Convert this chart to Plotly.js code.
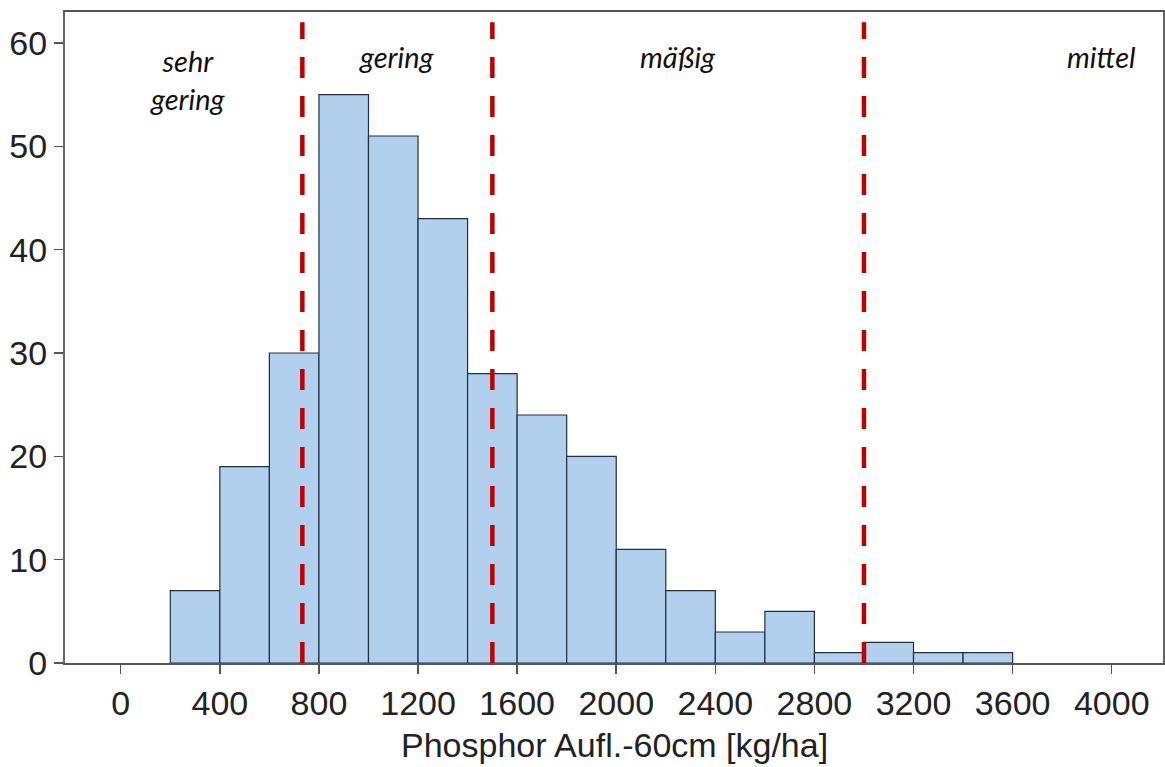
<!DOCTYPE html>
<html>
<head>
<meta charset="utf-8">
<script src="https://cdn.plot.ly/plotly-3.0.1.min.js"></script>
<style>html,body{margin:0;padding:0;background:#fff;}#chart{width:1165px;height:767px;}</style>
</head>
<body>
<div id="chart"></div>
<script>
// Histogram bins (start of each 200-wide bin) and counts
const binStarts = [200, 400, 600, 800, 1000, 1200, 1400, 1600, 1800, 2000, 2200, 2400, 2600, 2800, 3000, 3200, 3400];
const counts    = [7, 19, 30, 55, 51, 43, 28, 24, 20, 11, 7, 3, 5, 1, 2, 1, 1];
const binWidth = 200;

// Class boundaries (dashed red lines)
const thresholds = [733, 1500, 3000];

// Class labels
const classLabels = ["sehr<br>gering", "gering", "mäßig", "mittel"];
const classLabelX = [270, 1116, 2250, 3960];

const xTicks = [0, 400, 800, 1200, 1600, 2000, 2400, 2800, 3200, 3600, 4000];
const yTicks = [0, 10, 20, 30, 40, 50, 60];

const xTitle = "Phosphor Aufl.-60cm [kg/ha]";

const trace = {
  type: 'bar',
  x: binStarts.map(s => s + binWidth / 2),
  y: counts,
  width: binStarts.map(() => binWidth),
  marker: { color: '#b0d0ee', line: { color: '#22303e', width: 1.2 } },
  hoverinfo: 'x+y'
};

const shapes = thresholds.map(t => ({
  type: 'line', xref: 'x', yref: 'y',
  x0: t, x1: t, y0: 0, y1: 62.0,
  line: { color: '#c00000', width: 4.5, dash: '21px,18px' }
}));

const labelFont = { family: 'Lato, "Open Sans", sans-serif', size: 29, color: '#111' };
const annotations = classLabels.map((txt, i) => ({
  xref: 'x', yref: 'paper',
  x: classLabelX[i], y: i === 0 ? 0.955 : 0.962,
  yanchor: 'top', xanchor: 'center',
  text: '<i>' + txt + '</i>',
  showarrow: false, font: labelFont,
  align: 'center'
}));
annotations.push({
  xref: 'paper', yref: 'paper', x: 0.5, y: -0.126,
  xanchor: 'center', yanchor: 'middle',
  text: xTitle, showarrow: false,
  font: { family: '"Liberation Sans", Arial, sans-serif', size: 34, color: '#222' }
});

const tickFont = { family: '"Liberation Sans", Arial, sans-serif', size: 34, color: '#222' };

const layout = {
  width: 1165, height: 767,
  margin: { l: 65, r: 2, t: 12, b: 104 },
  paper_bgcolor: '#fff', plot_bgcolor: '#fff',
  showlegend: false,
  bargap: 0,
  xaxis: {
    range: [-225, 4207],
    tickmode: 'array', tickvals: xTicks, ticktext: xTicks.map(String),
    ticks: 'outside', ticklen: 9, tickwidth: 1.5, tickcolor: '#555',
    showgrid: false, zeroline: false,
    showline: true, linecolor: '#555', linewidth: 2, mirror: true,
    tickfont: tickFont
  },
  yaxis: {
    range: [0, 63],
    tickmode: 'array', tickvals: yTicks, ticktext: yTicks.map(String),
    ticks: 'outside', ticklen: 9, tickwidth: 1.5, tickcolor: '#555',
    showgrid: false, zeroline: false,
    showline: true, linecolor: '#666', linewidth: 2, mirror: true,
    tickfont: tickFont
  },
  shapes: shapes,
  annotations: annotations
};

Plotly.newPlot('chart', [trace], layout, { displayModeBar: false, staticPlot: true });
</script>
</body>
</html>
